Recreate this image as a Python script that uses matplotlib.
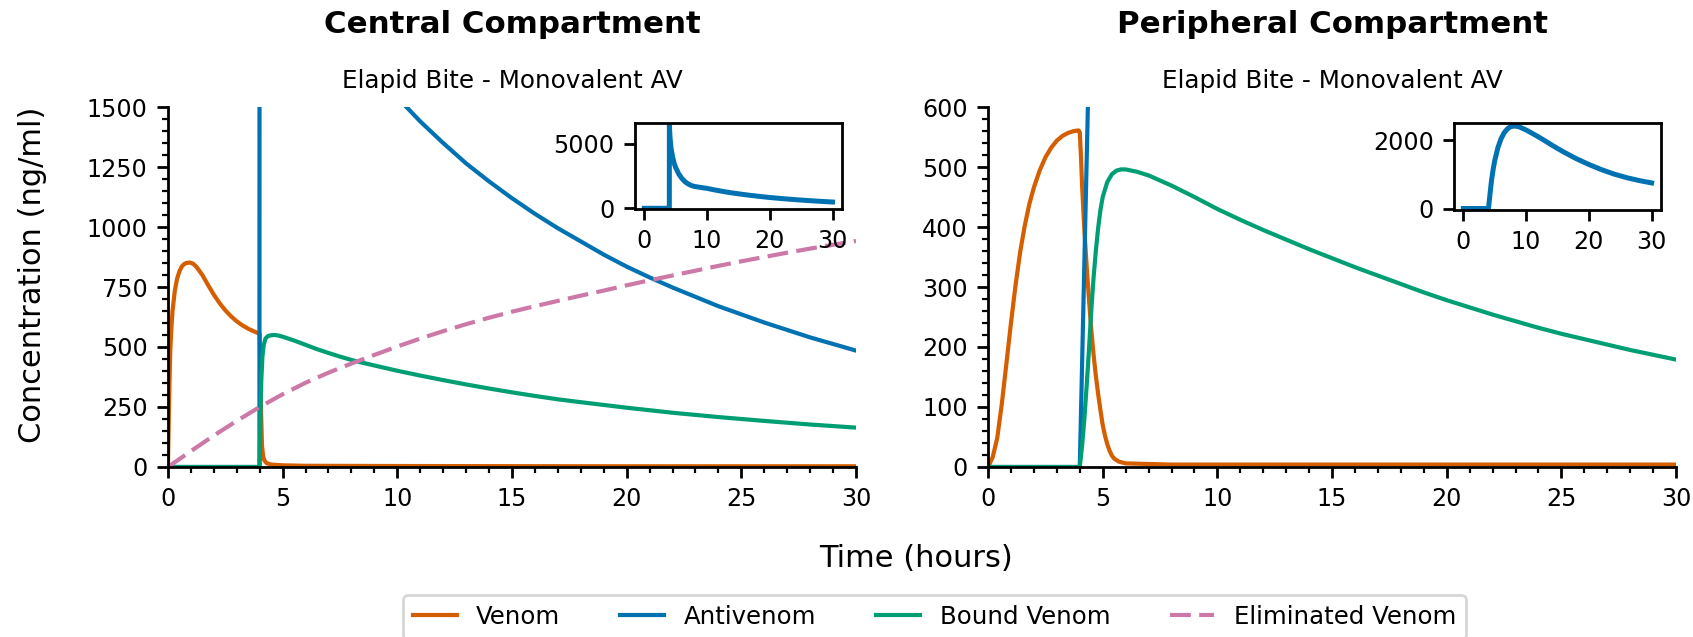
"""
Two-compartment venom / antivenom kinetics: central vs peripheral.
"""

import matplotlib
matplotlib.use("Agg")
import matplotlib.pyplot as plt
import matplotlib.ticker as mticker

_C = {
    "venom": "#D55E00",
    "antivenom": "#0072B2",
    "bound": "#009E73",
    "elim": "#CC79A7",
}

# ---------------------------------------------------------------------------
# Data (hours, ng/ml)
# ---------------------------------------------------------------------------

# Central compartment
venom_c_t = [0, 0.05, 0.1, 0.15, 0.2, 0.3, 0.4, 0.5, 0.6, 0.7, 0.8, 0.95, 1.1,
             1.25, 1.5, 1.75, 2.0, 2.25, 2.5, 2.75, 3.0, 3.25, 3.5, 3.75, 3.95,
             4.0, 4.03, 4.06, 4.1, 4.15, 4.2, 4.3, 4.5, 5.0, 6.0, 10, 20, 30]
venom_c = [0, 280, 480, 580, 650, 735, 785, 815, 835, 845, 850, 852, 847,
           833, 800, 758, 718, 683, 653, 628, 607, 590, 576, 565, 557,
           555, 400, 230, 90, 45, 28, 16, 10, 7, 5, 4, 3, 3]

av_c_t = [0, 3.99, 4.0, 4.1, 4.25, 4.5, 4.75, 5.0, 5.5, 6.0, 6.5, 7.0, 7.5,
          8, 9, 10, 11, 12, 13, 14, 15, 16, 17, 18, 19, 20, 21, 22, 24, 26,
          28, 30]
av_c = [0, 0, 6400, 5500, 4700, 4000, 3500, 3150, 2650, 2300, 2050, 1880,
        1760, 1690, 1610, 1540, 1440, 1350, 1265, 1190, 1120, 1055, 995,
        940, 885, 835, 790, 748, 670, 602, 540, 485]

bound_c_t = [0, 4.0, 4.03, 4.07, 4.12, 4.17, 4.25, 4.35, 4.5, 4.65, 4.8, 5.0,
             5.5, 6.0, 6.5, 7, 7.5, 8, 8.5, 9, 10, 11, 12, 13, 14, 15, 16,
             17, 18, 20, 22, 24, 26, 28, 30]
bound_c = [0, 0, 200, 360, 460, 505, 535, 545, 549, 550, 548, 543,
           527, 509, 491, 475, 460, 446, 434, 423, 401, 381, 362, 344, 327,
           311, 296, 282, 270, 247, 226, 208, 192, 177, 164]

elim_c_t = [0, 1, 2, 3, 4, 5, 6, 7, 8, 9, 10, 11, 12, 13, 14, 15, 16, 17, 18,
            19, 20, 21, 22, 23, 24, 25, 26, 27, 28, 29, 30]
elim_c = [0, 66, 131, 192, 250, 303, 351, 393, 431, 467, 502, 535, 566, 595,
          622, 647, 670, 692, 714, 735, 757, 778, 798, 818, 838, 857, 875,
          893, 910, 926, 942]

# Peripheral compartment
venom_p_t = [0, 0.2, 0.4, 0.6, 0.8, 1.0, 1.2, 1.4, 1.6, 1.8, 2.0, 2.25, 2.5,
             2.75, 3.0, 3.25, 3.5, 3.75, 3.95, 4.0, 4.05, 4.1, 4.2, 4.3, 4.4,
             4.5, 4.6, 4.7, 4.8, 4.9, 5.0, 5.1, 5.2, 5.3, 5.4, 5.5, 5.7, 6.0,
             8, 30]
venom_p = [0, 16, 48, 105, 172, 240, 303, 358, 402, 438, 466, 494, 516,
           532, 544, 552, 557, 560, 561, 558, 520, 470, 395, 335, 280,
           230, 188, 152, 122, 95, 70, 52, 38, 27, 19, 14, 9, 6,
           4, 4]

av_p_t = [0, 4.0, 4.1, 4.2, 4.3, 4.4, 4.5, 4.75, 5.0, 5.5, 6.0, 6.5, 7.0,
          7.5, 8.0, 8.5, 9, 10, 11, 12, 13, 14, 15, 16, 18, 20, 22, 24, 26,
          28, 30]
av_p = [0, 0, 170, 340, 510, 680, 840, 1150, 1400, 1780, 2040, 2220, 2330,
        2395, 2415, 2410, 2385, 2300, 2200, 2095, 1985, 1870, 1760, 1655,
        1460, 1290, 1140, 1010, 905, 820, 750]

bound_p_t = [0, 4.0, 4.1, 4.2, 4.3, 4.4, 4.5, 4.6, 4.7, 4.8, 4.9, 5.0, 5.2,
             5.4, 5.6, 5.8, 6.0, 6.5, 7, 8, 9, 10, 11, 12, 13, 14, 15,
             16, 17, 18, 19, 20, 21, 22, 23, 24, 25, 26, 27, 28, 29, 30]
bound_p = [0, 0, 35, 80, 135, 195, 260, 315, 360, 398, 428, 450, 475,
           488, 494, 496, 496, 492, 486, 469, 450, 430, 412, 395, 379,
           363, 348, 333, 319, 305, 291, 278, 266, 254, 243, 232, 222, 213,
           204, 195, 187, 179]

inset_yticks_c = [0, 5000]
inset_yticks_p = [0, 2000]
inset_xticks = [0, 10, 20, 30]

# ---------------------------------------------------------------------------
# Figure
# ---------------------------------------------------------------------------

plt.rcParams.update({
    "font.family": "DejaVu Sans",
    "axes.linewidth": 1.0,
    "xtick.major.width": 1.0,
    "ytick.major.width": 1.0,
    "xtick.minor.width": 0.8,
    "ytick.minor.width": 0.8,
    "xtick.major.size": 3.8,
    "ytick.major.size": 3.8,
    "xtick.minor.size": 2.0,
    "ytick.minor.size": 2.0,
    "xtick.labelsize": 8.6,
    "ytick.labelsize": 8.6,
})

fig = plt.figure(figsize=(8.465, 3.185), dpi=200)

ax_c = fig.add_axes([0.0992, 0.2669, 0.4064, 0.5651])
ax_p = fig.add_axes([0.5836, 0.2669, 0.4064, 0.5651])

LW = 1.5

ax_c.plot(venom_c_t, venom_c, color=_C["venom"], lw=LW, label="Venom")
ax_c.plot(av_c_t, av_c, color=_C["antivenom"], lw=LW, label="Antivenom")
ax_c.plot(bound_c_t, bound_c, color=_C["bound"], lw=LW, label="Bound Venom")
ax_c.plot(elim_c_t, elim_c, color=_C["elim"], lw=LW, dashes=(5, 2),
          label="Eliminated Venom")

ax_p.plot(venom_p_t, venom_p, color=_C["venom"], lw=LW)
ax_p.plot(av_p_t, av_p, color=_C["antivenom"], lw=LW)
ax_p.plot(bound_p_t, bound_p, color=_C["bound"], lw=LW)

for ax, ymax, ystep, yminor, title in [
    (ax_c, 1500, 250, 50, "Central Compartment"),
    (ax_p, 600, 100, 20, "Peripheral Compartment"),
]:
    ax.set_xlim(0, 30)
    ax.set_ylim(0, ymax)
    ax.xaxis.set_major_locator(mticker.MultipleLocator(5))
    ax.xaxis.set_minor_locator(mticker.MultipleLocator(1))
    ax.yaxis.set_major_locator(mticker.MultipleLocator(ystep))
    ax.yaxis.set_minor_locator(mticker.MultipleLocator(yminor))
    ax.spines["top"].set_visible(False)
    ax.spines["right"].set_visible(False)
    ax.text(0.5, 1.2306, title, transform=ax.transAxes, ha="center",
            va="center", fontsize=11.1, fontweight="bold")
    ax.text(0.5, 1.072, "Elapid Bite - Monovalent AV", transform=ax.transAxes,
            ha="center", va="center", fontsize=8.85)

# Insets with the full antivenom curve
in_c = fig.add_axes([0.375, 0.672, 0.1223, 0.135])
in_c.plot(av_c_t, av_c, color=_C["antivenom"], lw=1.8)
in_c.set_ylim(-50, 6600)
in_c.set_yticks(inset_yticks_c)

in_p = fig.add_axes([0.8588, 0.670, 0.1223, 0.1366])
in_p.plot(av_p_t, av_p, color=_C["antivenom"], lw=1.8)
in_p.set_ylim(-50, 2500)
in_p.set_yticks(inset_yticks_p)

for ax in (in_c, in_p):
    ax.set_xlim(-1.5, 31.5)
    ax.set_xticks(inset_xticks)
    ax.minorticks_off()

fig.text(0.019, 0.568, "Concentration (ng/ml)", rotation=90, ha="center",
         va="center", fontsize=11)
fig.text(0.541, 0.124, "Time (hours)", ha="center", va="center", fontsize=11)

handles, labels = ax_c.get_legend_handles_labels()
fig.legend(handles, labels, loc="upper center", bbox_to_anchor=(0.552, 0.066),
           ncol=4, fontsize=8.8, columnspacing=2.45, handlelength=1.8,
           borderaxespad=0)

fig.savefig("out.png", dpi=200)
plt.close(fig)
